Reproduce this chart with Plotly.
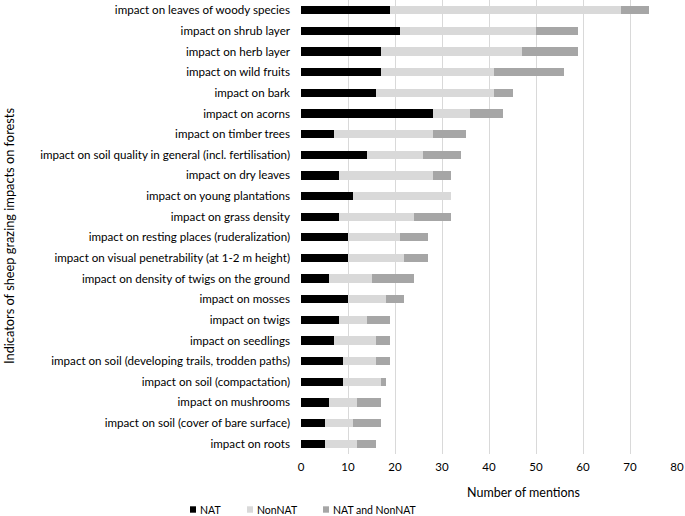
import plotly.graph_objects as go

categories = [
    "impact on leaves of woody species",
    "impact on shrub layer",
    "impact on herb layer",
    "impact on wild fruits",
    "impact on bark",
    "impact on acorns",
    "impact on timber trees",
    "impact on soil quality in general (incl. fertilisation)",
    "impact on dry leaves",
    "impact on young plantations",
    "impact on grass density",
    "impact on resting places (ruderalization)",
    "impact on visual penetrability (at 1-2 m height)",
    "impact on density of twigs on the ground",
    "impact on mosses",
    "impact on twigs",
    "impact on seedlings",
    "impact on soil (developing trails, trodden paths)",
    "impact on soil (compactation)",
    "impact on mushrooms",
    "impact on soil (cover of bare surface)",
    "impact on roots",
]
nat = [19, 21, 17, 17, 16, 28, 7, 14, 8, 11, 8, 10, 10, 6, 10, 8, 7, 9, 9, 6, 5, 5]
nonnat = [49, 29, 30, 24, 25, 8, 21, 12, 20, 21, 16, 11, 12, 9, 8, 6, 9, 7, 8, 6, 6, 7]
both = [6, 9, 12, 15, 4, 7, 7, 8, 4, 0, 8, 6, 5, 9, 4, 5, 3, 3, 1, 5, 6, 4]
x_ticks = [0, 10, 20, 30, 40, 50, 60, 70, 80]
series_names = ["NAT", "NonNAT", "NAT and NonNAT"]
series_colors = ["#000000", "#d9d9d9", "#a6a6a6"]

FONT = "Lato"
L, R, T, B = 301, 8, 0, 62
PW, PH = 685 - L - R, 516 - T - B

fig = go.Figure()
for name, vals, col in zip(series_names, [nat, nonnat, both], series_colors):
    fig.add_trace(go.Bar(y=categories, x=vals, name=name, orientation="h",
                         marker=dict(color=col, line=dict(width=0)), width=0.4,
                         showlegend=False))

fig.update_layout(
    width=685, height=516,
    barmode="stack",
    plot_bgcolor="white", paper_bgcolor="white",
    margin=dict(l=L, r=R, t=T, b=B, autoexpand=False),
    font=dict(family=FONT, size=12, color="#000000"),
    xaxis=dict(range=[0, 80], tickvals=x_ticks, showgrid=True, gridcolor="#d9d9d9",
               gridwidth=1, zeroline=False, showline=False, ticks="",
               automargin=False, ticklabeloverflow="allow",
               ticklabelstandoff=4,
               tickfont=dict(size=11.5, color="#000000")),
    yaxis=dict(autorange="reversed", showgrid=False, ticks="", showline=False,
               automargin=False, tickfont=dict(size=11.6, color="#000000"),
               ticklabelstandoff=10),
    showlegend=False,
)
fig.add_annotation(text="Number of mentions", xref="paper", yref="paper",
                   x=(523 - L) / PW, y=-(493 - PH) / PH, showarrow=False,
                   xanchor="center", yanchor="middle", font=dict(size=12.5))
fig.add_annotation(text="Indicators of sheep grazing impacts on forests", xref="paper",
                   yref="paper", x=-(L - 9) / PW, y=1 - (236 / PH), textangle=-90,
                   showarrow=False, xanchor="center", yanchor="middle",
                   font=dict(size=12.8))

# manual legend (small squares + labels)
leg_x = [190, 247, 323]
leg_y = -(509.5 - PH) / PH
for nm, col, px in zip(series_names, series_colors, leg_x):
    fig.add_shape(type="rect", xref="paper", yref="paper",
                  x0=(px - L) / PW, x1=(px + 6 - L) / PW,
                  y0=leg_y - 3.2 / PH, y1=leg_y + 3.2 / PH,
                  fillcolor=col, line=dict(width=0))
    fig.add_annotation(text=nm, xref="paper", yref="paper", x=(px + 8 - L) / PW,
                       y=leg_y, xanchor="left", yanchor="middle", showarrow=False,
                       font=dict(size=10.5))

fig.write_html("out.html", config={"displayModeBar": False},
               post_script="document.body.style.margin='0px';")
